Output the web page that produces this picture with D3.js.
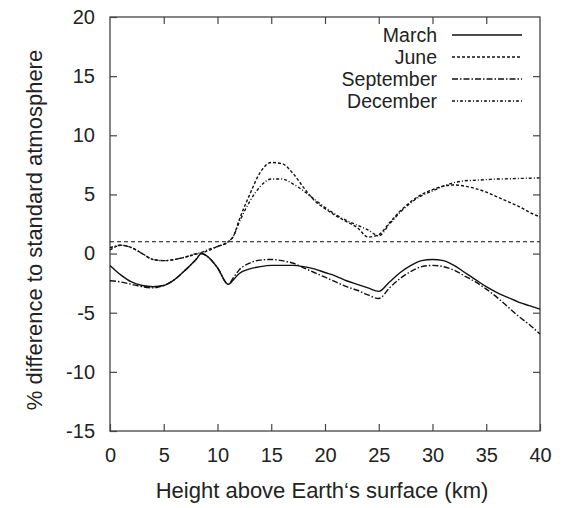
<!DOCTYPE html>
<html>
<head>
<meta charset="utf-8">
<script src="https://cdn.jsdelivr.net/npm/d3@7"></script>
<style>
  html, body { margin: 0; padding: 0; background: #fff; }
  svg { display: block; font-family: "Liberation Sans", Arial, sans-serif; }
</style>
</head>
<body>
<svg id="chart" width="565" height="508"></svg>
<script>
// Height above surface (km) and % deviation from the standard atmosphere
const heights = [0, 1, 2, 3, 4, 5, 6, 7, 8, 8.5, 9, 10, 11, 11.5, 12, 13, 14, 15, 16, 17, 18, 19, 20,
                 21, 22, 23, 24, 25, 26, 27, 28, 29, 30, 31, 32, 33, 34, 35, 36, 37, 38, 39, 40];

const march = [-1.0, -1.8, -2.4, -2.7, -2.8, -2.7, -2.2, -1.4, -0.5, 0.0, -0.2, -1.2, -2.6, -2.2, -1.7, -1.3, -1.1, -1.0, -1.0, -1.0, -1.1, -1.3, -1.6,
               -1.9, -2.3, -2.6, -2.9, -3.2, -2.4, -1.6, -1.0, -0.6, -0.5, -0.6, -1.0, -1.6, -2.2, -2.8, -3.3, -3.7, -4.1, -4.4, -4.7];

const june = [0.3, 0.7, 0.5, 0.0, -0.5, -0.6, -0.5, -0.3, -0.05, 0.05, 0.2, 0.6, 1.0, 1.5, 2.8, 5.0, 6.9, 7.7, 7.6, 6.8, 5.6, 4.5, 3.8,
              3.2, 2.7, 2.2, 1.4, 1.6, 2.6, 3.6, 4.4, 5.0, 5.4, 5.7, 5.8, 5.7, 5.5, 5.2, 4.8, 4.4, 4.0, 3.5, 3.1];

const september = [-2.3, -2.4, -2.6, -2.8, -2.9, -2.7, -2.2, -1.4, -0.5, 0.0, -0.2, -1.2, -2.6, -2.0, -1.4, -0.8, -0.55, -0.5, -0.6, -0.8, -1.2, -1.6, -2.0,
                   -2.4, -2.8, -3.1, -3.5, -3.8, -2.9, -2.1, -1.5, -1.1, -1.0, -1.1, -1.4, -1.9, -2.4, -3.0, -3.7, -4.5, -5.3, -6.0, -6.8];

const december = [0.5, 0.7, 0.5, 0.0, -0.5, -0.6, -0.5, -0.3, 0.0, 0.1, 0.3, 0.6, 1.0, 1.5, 2.6, 4.4, 5.7, 6.3, 6.3, 5.9, 5.3, 4.6, 3.9,
                  3.3, 2.8, 2.4, 2.0, 1.5, 2.5, 3.5, 4.3, 4.9, 5.3, 5.7, 6.0, 6.15, 6.2, 6.25, 6.3, 6.32, 6.35, 6.37, 6.4];

const seriesNames = ["March", "June", "September", "December"];
const seriesValues = [march, june, september, december];
const seriesDash = [null, "3,2", "6,2,1.5,2", "3,2,1,2"];

const referenceLevel = 1;   // horizontal dashed reference line
const xTicks = [0, 5, 10, 15, 20, 25, 30, 35, 40];
const yTicks = [-15, -10, -5, 0, 5, 10, 15, 20];

const svg = d3.select("#chart");
const m = { left: 110, right: 540, top: 17, bottom: 431 };

const x = d3.scaleLinear().domain([0, 40]).range([m.left, m.right]);
const y = d3.scaleLinear().domain([-15, 20]).range([m.bottom, m.top]);

const axisColor = "#444";
const textColor = "#222";
const tickLen = 7;
const tickFont = 20;
const labelFont = 22;
const legendFont = 19.5;

// Frame
svg.append("rect")
  .attr("x", m.left).attr("y", m.top)
  .attr("width", m.right - m.left).attr("height", m.bottom - m.top)
  .attr("fill", "none").attr("stroke", axisColor).attr("stroke-width", 1.3);

// Axes with inward ticks, mirrored on the opposite sides
function styleAxis(g) {
  g.select(".domain").remove();
  g.selectAll(".tick line").attr("stroke", axisColor).attr("stroke-width", 1.2);
  g.selectAll(".tick text").attr("fill", textColor).attr("font-size", tickFont)
    .attr("font-family", "Liberation Sans, Arial, sans-serif");
}
const plain = d => String(d);

svg.append("g").attr("transform", `translate(0,${m.bottom})`)
  .call(d3.axisBottom(x).tickValues(xTicks).tickSize(-tickLen).tickPadding(17).tickFormat(plain))
  .call(styleAxis);
svg.append("g").attr("transform", `translate(0,${m.top})`)
  .call(d3.axisTop(x).tickValues(xTicks.slice(1, -1)).tickSize(-tickLen).tickFormat(""))
  .call(styleAxis);
svg.append("g").attr("transform", `translate(${m.left},0)`)
  .call(d3.axisLeft(y).tickValues(yTicks).tickSize(-tickLen).tickPadding(15).tickFormat(plain))
  .call(styleAxis);
svg.append("g").attr("transform", `translate(${m.right},0)`)
  .call(d3.axisRight(y).tickValues(yTicks.slice(1, -1)).tickSize(-tickLen).tickFormat(""))
  .call(styleAxis);

// Axis titles
svg.append("text")
  .attr("x", (m.left + m.right) / 2 - 3).attr("y", 498)
  .attr("text-anchor", "middle").attr("font-size", labelFont).attr("fill", textColor)
  .text("Height above Earth\u2018s surface (km)");
svg.append("text")
  .attr("transform", `translate(42,${(m.top + m.bottom) / 2 + 6}) rotate(-90)`)
  .attr("text-anchor", "middle").attr("font-size", labelFont).attr("fill", textColor)
  .text("% difference to standard atmosphere");

// Reference line
svg.append("line")
  .attr("x1", x(0)).attr("x2", x(40))
  .attr("y1", y(referenceLevel)).attr("y2", y(referenceLevel))
  .attr("stroke", "#111").attr("stroke-width", 1.1).attr("stroke-dasharray", "4,3");

// Monthly curves
const line = d3.line()
  .x((d, i) => x(heights[i]))
  .y(d => y(d))
  .curve(d3.curveMonotoneX);

const plot = svg.append("g");
seriesValues.forEach((vals, k) => {
  plot.append("path")
    .datum(vals)
    .attr("d", line)
    .attr("fill", "none")
    .attr("stroke", "#111")
    .attr("stroke-width", 1.4)
    .attr("stroke-dasharray", seriesDash[k]);
});

// Legend
const legend = svg.append("g");
seriesNames.forEach((name, k) => {
  const ly = 35 + k * 22;
  legend.append("text")
    .attr("x", 437).attr("y", ly).attr("dy", "0.35em")
    .attr("text-anchor", "end").attr("font-size", legendFont).attr("fill", textColor)
    .text(name);
  legend.append("line")
    .attr("x1", 452).attr("x2", 522).attr("y1", ly).attr("y2", ly)
    .attr("stroke", "#111").attr("stroke-width", 1.4)
    .attr("stroke-dasharray", seriesDash[k]);
});
</script>
</body>
</html>
